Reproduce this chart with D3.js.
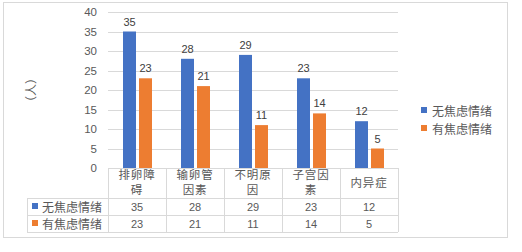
<!DOCTYPE html>
<html><head><meta charset="utf-8">
<script src="https://cdn.jsdelivr.net/npm/d3@7/dist/d3.min.js"></script>
<style>body{margin:0;background:#fff}svg{display:block}text{font-family:"Noto Sans CJK SC","Liberation Sans",sans-serif}</style>
</head><body><svg id="c" width="522" height="252"></svg>
<script>
const categories = ["排卵障碍","输卵管因素","不明原因","子宫因素","内异症"];
const categoryLines = [["排卵障","碍"],["输卵管","因素"],["不明原","因"],["子宫因","素"],["内异症"]];
const seriesNames = ["无焦虑情绪","有焦虑情绪"];
const noAnxiety = [35,28,29,23,12];
const withAnxiety = [23,21,11,14,5];
const yTicks = [0,5,10,15,20,25,30,35,40];
const colors = ["#4472C4","#ED7D31"];
const yTitle = "（人）";

const svg = d3.select("#c");
const L = 108, R = 398, T = 12, B = 168;
const series = [noAnxiety, withAnxiety];

svg.append("rect").attr("x",3.5).attr("y",2.5).attr("width",504).attr("height",235)
  .attr("fill","#fff").attr("stroke","#d9d9d9");

const x = d3.scaleBand().domain(categories).range([L,R]);
const y = d3.scaleLinear().domain([0,40]).range([B,T]);

// gridlines
svg.append("g").selectAll("line").data(yTicks.filter(d=>d>0)).join("line")
  .attr("x1",L).attr("x2",R).attr("y1",d=>Math.round(y(d))+0.5).attr("y2",d=>Math.round(y(d))+0.5)
  .attr("stroke","#d9d9d9");

// y axis labels
const yAxis = d3.axisLeft(y).tickValues(yTicks).tickSize(0).tickPadding(11);
const ga = svg.append("g").attr("transform",`translate(${L},0)`).call(yAxis);
ga.select(".domain").remove();
ga.selectAll("text").attr("fill","#595959").style("font-size","11.5px").style("font-family","Liberation Sans, sans-serif");

svg.append("text").attr("transform",`translate(30,90) rotate(-90)`).attr("text-anchor","middle")
  .attr("dominant-baseline","central").attr("fill","#595959").style("font-size","12px").text(yTitle);

// bars
const bw = 13;
series.forEach((s,i)=>{
  const off = i===0 ? -bw-1 : 2;
  const g = svg.append("g");
  g.selectAll("rect").data(s).join("rect")
    .attr("x",(d,j)=>x(categories[j])+x.bandwidth()/2+off)
    .attr("y",d=>y(d)).attr("width",bw).attr("height",d=>y(0)-y(d))
    .attr("fill",colors[i]);
  g.selectAll("text").data(s).join("text")
    .attr("x",(d,j)=>x(categories[j])+x.bandwidth()/2+off+bw/2)
    .attr("y",d=>y(d)-6).attr("text-anchor","middle").attr("fill","#404040")
    .style("font-size","11px").style("font-family","Liberation Sans, sans-serif").text(d=>d);
});

// table
const rows = [198,215,232];
const tg = svg.append("g").attr("stroke","#d9d9d9").attr("fill","none");
tg.append("line").attr("x1",L).attr("x2",R).attr("y1",B+0.5).attr("y2",B+0.5);
rows.forEach(r=>tg.append("line").attr("x1",27).attr("x2",R).attr("y1",r+0.5).attr("y2",r+0.5));
tg.append("line").attr("x1",27.5).attr("x2",27.5).attr("y1",198).attr("y2",232);
categories.concat([null]).forEach((c,j)=>{
  const xx = c===null ? R : x(c);
  tg.append("line").attr("x1",Math.round(xx)+0.5).attr("x2",Math.round(xx)+0.5).attr("y1",B).attr("y2",232);
});
// category labels
categoryLines.forEach((lines,j)=>{
  const cx = x(categories[j])+x.bandwidth()/2;
  lines.forEach((ln,k)=>{
    const yy = lines.length===1 ? 183 : 175+k*14.5;
    svg.append("text").attr("x",cx).attr("y",yy+4).attr("text-anchor","middle").attr("fill","#595959")
      .style("font-size","11.5px").style("letter-spacing","0.8px").text(ln);
  });
});
// series rows
series.forEach((s,i)=>{
  const cy = (rows[i]+rows[i+1])/2;
  svg.append("rect").attr("x",32).attr("y",cy-3.5).attr("width",6).attr("height",6).attr("fill",colors[i]);
  svg.append("text").attr("x",42).attr("y",cy).attr("dominant-baseline","central").attr("fill","#595959")
    .style("font-size","12px").text(seriesNames[i]);
  svg.append("g").selectAll("text").data(s).join("text")
    .attr("x",(d,j)=>x(categories[j])+x.bandwidth()/2).attr("y",cy+0.5)
    .attr("text-anchor","middle").attr("dominant-baseline","central").attr("fill","#595959")
    .style("font-size","11px").style("font-family","Liberation Sans, sans-serif").text(d=>d);
});

// legend
seriesNames.forEach((n,i)=>{
  const cy = 110 + i*18;
  svg.append("rect").attr("x",421).attr("y",cy-3).attr("width",6).attr("height",6).attr("fill",colors[i]);
  svg.append("text").attr("x",432).attr("y",cy).attr("dominant-baseline","central").attr("fill","#595959")
    .style("font-size","12px").text(n);
});
</script></body></html>
